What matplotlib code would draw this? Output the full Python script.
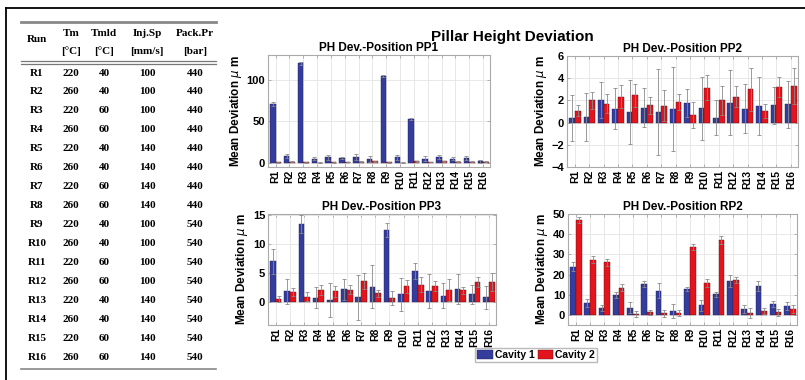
import numpy as np
import matplotlib
matplotlib.use("Agg")
import matplotlib.pyplot as plt
from matplotlib.lines import Line2D

# process settings per run
runs = ["R%d" % i for i in range(1, 17)]
tm = [220, 260] * 8
tmld = [40, 40, 60, 60] * 4
inj_sp = [100] * 4 + [140] * 4 + [100] * 4 + [140] * 4
pack_pr = [440] * 8 + [540] * 8

# mean deviation (um) and error for cavity 1 / cavity 2
pp1_c1 = [71, 8, 120, 5, 7, 6, 7, 4.5, 105, 6.5, 53, 5, 7, 5, 6, 2]
pp1_c1_err = [2, 2.5, 1.5, 2, 3, 1.5, 4, 3.5, 1, 3.5, 1.5, 3, 2, 2, 2.5, 2]
pp1_c2 = [0.5, 1.5, 0.5, 0.3, 0.5, 1, 1.5, 2, 0.5, 0.3, 2, 1, 2, 1.5, 1.5, 1.5]
pp1_c2_err = [0.5] * 16

pp2_c1 = [0.4, 0.5, 2.05, 1.25, 0.95, 1.35, 0.95, 1.2, 1.75, 1.3, 0.45, 1.8, 1.25, 1.5, 1.55, 1.65]
pp2_c1_err = [2.1, 2.2, 1.6, 1.85, 2.9, 1.75, 3.9, 3.8, 1.25, 2.85, 1.55, 2.9, 2.2, 2.65, 1.65, 2.1]
pp2_c2 = [1.05, 2.0, 1.7, 2.35, 2.45, 1.55, 1.5, 1.85, 0.7, 3.15, 2.0, 2.35, 3.0, 1.05, 3.25, 3.3]
pp2_c2_err = [0.5, 0.8, 0.85, 1.0, 1.0, 0.8, 1.4, 0.7, 1.2, 1.15, 1.3, 0.95, 1.95, 0.6, 0.9, 1.65]

pp3_c1 = [7.0, 1.8, 13.5, 0.7, 0.3, 2.2, 0.8, 2.6, 12.4, 1.3, 5.3, 1.9, 1.1, 2.3, 1.3, 0.8]
pp3_c1_err = [2.1, 2.2, 1.5, 1.8, 2.9, 1.8, 3.9, 3.7, 1.2, 2.8, 1.4, 2.9, 2.2, 2.6, 1.6, 2.0]
pp3_c2 = [0.5, 1.7, 0.9, 2.1, 1.8, 2.1, 3.6, 1.5, 0.7, 2.7, 3.0, 2.7, 2.1, 2.0, 3.4, 3.4]
pp3_c2_err = [0.5, 0.7, 0.8, 0.9, 0.9, 0.8, 1.4, 0.6, 1.2, 1.1, 1.3, 0.9, 1.9, 0.6, 0.9, 1.6]

rp2_c1 = [23.8, 5.8, 3.2, 10, 3.5, 15.5, 12, 2.1, 13, 4.8, 10.3, 17, 2.7, 14.5, 5.4, 4.3]
rp2_c1_err = [2.2, 2, 1.5, 1.5, 2.7, 1.5, 3.7, 3.5, 1, 2.8, 1.2, 3, 2, 2.5, 1.5, 2]
rp2_c2 = [46.8, 27.3, 26, 13.4, 0.3, 1.2, 0.8, 0.8, 33.8, 16, 37.3, 17.3, 0.9, 1.9, 1.2, 2.8]
rp2_c2_err = [1.5, 1.7, 1.8, 1.8, 1.5, 1.3, 1.8, 1.5, 1.5, 2, 2, 1.7, 2.5, 1.6, 1.5, 2]

W, H = 805, 380
fig = plt.figure(figsize=(W / 100, H / 100), dpi=100)

def fx(px):
    return px / W

def fy(py):
    return 1 - py / H

# frame lines (top and left)
fig.add_artist(Line2D([fx(6), 1], [fy(8), fy(8)], color="black", lw=1.3))
fig.add_artist(Line2D([fx(6), fx(6)], [fy(8), 0], color="black", lw=1.3))

# ---- settings table ----
serif = dict(family="Liberation Serif", weight="bold", size=8, ha="center", va="center")
col_x = [37, 71, 104, 147, 195]
tab_l, tab_r = 21, 216
fig.add_artist(Line2D([fx(tab_l), fx(tab_r)], [fy(22), fy(22)], color="#888888", lw=2))
for yy in (61, 63.5):
    fig.add_artist(Line2D([fx(tab_l), fx(tab_r)], [fy(yy), fy(yy)], color="#777777", lw=0.9))
fig.add_artist(Line2D([fx(tab_l), fx(tab_r)], [fy(369), fy(369)], color="#888888", lw=1.2))

fig.text(fx(col_x[0]), fy(39), "Run", **serif)
for x, top, unit in zip(col_x[1:], ["Tm", "Tmld", "Inj.Sp", "Pack.Pr"],
                        ["[°C]", "[°C]", "[mm/s]", "[bar]"]):
    fig.text(fx(x), fy(33), top, **serif)
    fig.text(fx(x), fy(51), unit, **serif)

for i in range(16):
    y = 73 + i * 18.95
    row = [runs[i], tm[i], tmld[i], inj_sp[i], pack_pr[i]]
    for x, v in zip(col_x, row):
        fig.text(fx(x), fy(y), str(v), **serif)

# ---- bar charts ----
blue = "#343c9c"
red = "#e3141c"
sans = "Liberation Sans"

fig.text(fx(512), fy(37), "Pillar Height Deviation", family=sans, weight="bold",
         size=11, ha="center", va="center")

panels = [
    ("PH Dev.-Position PP1", pp1_c1, pp1_c1_err, pp1_c2, pp1_c2_err, (-5, 130), [0, 50, 100],
     (268, 55, 490, 167)),
    ("PH Dev.-Position PP2", pp2_c1, pp2_c1_err, pp2_c2, pp2_c2_err, (-4, 6), [-4, -2, 0, 2, 4, 6],
     (567, 56, 798, 167)),
    ("PH Dev.-Position PP3", pp3_c1, pp3_c1_err, pp3_c2, pp3_c2_err, (-4, 15.2), [0, 5, 10, 15],
     (268, 214, 496, 325)),
    ("PH Dev.-Position RP2", rp2_c1, rp2_c1_err, rp2_c2, rp2_c2_err, (-5, 50), [0, 10, 20, 30, 40, 50],
     (568, 214, 797, 325)),
]

x = np.arange(1, 17)
bw = 0.4
err_kw = dict(ecolor="#8a8a8a", elinewidth=0.6, capsize=1.6, capthick=0.6)

handles = []
for title, c1, e1, c2, e2, ylim, yticks, (l, t, r, b) in panels:
    ax = fig.add_axes([fx(l), fy(b), (r - l) / W, (b - t) / H])
    h1 = ax.bar(x - bw / 2, c1, bw, yerr=e1, color=blue, edgecolor="#222255",
                linewidth=0.3, error_kw=err_kw, zorder=3)
    h2 = ax.bar(x + bw / 2, c2, bw, yerr=e2, color=red, edgecolor="#551111",
                linewidth=0.3, error_kw=err_kw, zorder=3)
    handles = [h1, h2]
    ax.set_xlim(0.45, 16.5)
    ax.set_ylim(*ylim)
    ax.set_yticks(yticks)
    ax.set_xticks(x)
    ax.set_xticklabels(runs, rotation=90, family=sans, weight="bold", size=7.5)
    for lab in ax.get_yticklabels():
        lab.set_family(sans)
        lab.set_weight("bold")
        lab.set_fontsize(8)
    ax.grid(True, color="#e4e4e4", lw=0.6, zorder=0)
    ax.tick_params(direction="in", length=2, width=0.5, color="#999999",
                   top=True, right=True, pad=2)
    for sp in ax.spines.values():
        sp.set_color("#aaaaaa")
        sp.set_linewidth(0.8)
    ax.set_title(title, family=sans, weight="bold", size=8.5, pad=3)
    ax.set_ylabel(r"Mean Deviation $\mu$ m", family=sans, weight="bold", size=8.5, labelpad=2)

fig.legend(handles, ["Cavity 1", "Cavity 2"], loc="center", bbox_to_anchor=(fx(536), fy(355)),
           ncol=2, prop=dict(family=sans, weight="bold", size=7.5), frameon=True,
           fancybox=False, edgecolor="#aaaaaa", borderpad=0.2, handlelength=1.5,
           handleheight=1.0, handletextpad=0.2, columnspacing=0.3, borderaxespad=0)

fig.savefig("out.png", dpi=100)
